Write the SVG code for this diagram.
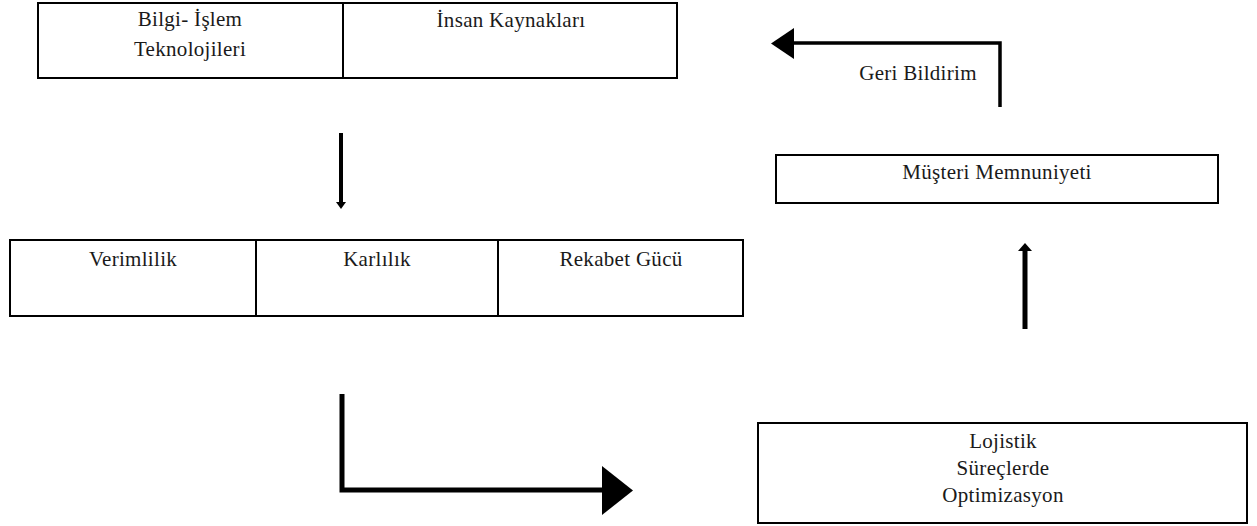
<svg xmlns="http://www.w3.org/2000/svg" width="1257" height="526" viewBox="0 0 1257 526">
<style>
.box{fill:#fff;stroke:#000;stroke-width:2}
.t{font-family:"Liberation Serif",serif;font-size:21px;letter-spacing:0.3px;fill:#1a1a1a;text-anchor:middle}
.c{fill:none;stroke:#000;stroke-linejoin:miter}
</style>
<rect width="1257" height="526" fill="#fff"/>
<g id="n-top">
<rect class="box" x="38" y="3" width="639" height="75"/>
<line x1="343" y1="3" x2="343" y2="78" stroke="#000" stroke-width="2"/>
<text class="t" x="190" y="26">Bilgi- İşlem</text>
<text class="t" x="190" y="56">Teknolojileri</text>
<text class="t" x="511" y="27">İnsan Kaynakları</text>
</g>
<g id="n-mid">
<rect class="box" x="10" y="240" width="733" height="76"/>
<line x1="256" y1="240" x2="256" y2="316" stroke="#000" stroke-width="2"/>
<line x1="498" y1="240" x2="498" y2="316" stroke="#000" stroke-width="2"/>
<text class="t" x="133" y="266">Verimlilik</text>
<text class="t" x="377" y="266">Karlılık</text>
<text class="t" x="621" y="266">Rekabet Gücü</text>
</g>
<g id="n-musteri">
<rect class="box" x="776" y="155" width="442" height="48"/>
<text class="t" x="997" y="179">Müşteri Memnuniyeti</text>
</g>
<g id="n-lojistik">
<rect class="box" x="758" y="423" width="489" height="100"/>
<text class="t" x="1003" y="448">Lojistik</text>
<text class="t" x="1003" y="475">Süreçlerde</text>
<text class="t" x="1003" y="502">Optimizasyon</text>
</g>
<g id="connectors">
<line class="c" x1="341" y1="133" x2="341" y2="204" stroke-width="4"/>
<path d="M336,202L346,202L341,209z" fill="#000"/>
<line class="c" x1="1025" y1="329" x2="1025" y2="249" stroke-width="5"/>
<path d="M1018,251L1032,251L1025,243z" fill="#000"/>
<polyline class="c" points="1000,107 1000,43 792,43" stroke-width="3.5"/>
<path d="M794,28L794,59L771,43.5z" fill="#000"/>
<polyline class="c" points="342,394 342,490 604,490" stroke-width="5"/>
<path d="M602,466L602,515L633,490.5z" fill="#000"/>
<text class="t" x="918" y="80">Geri Bildirim</text>
</g>
</svg>
